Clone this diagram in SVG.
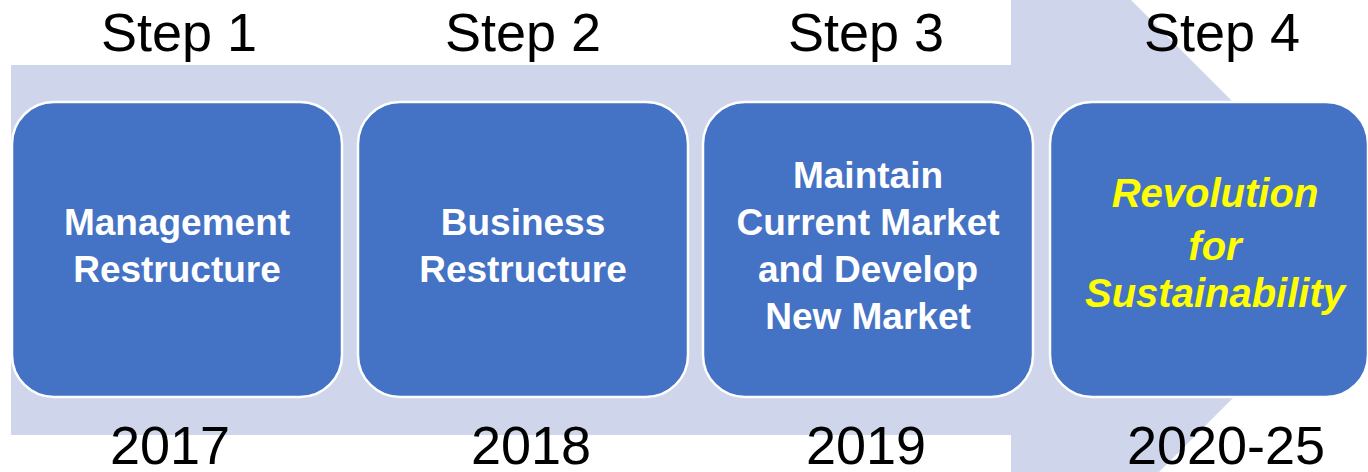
<svg xmlns="http://www.w3.org/2000/svg" width="1368" height="472" viewBox="0 0 1368 472">
<style>
.band{fill:#cfd5ea}
.box{fill:#4472c4;stroke:#ffffff;stroke-width:2.5}
.step{font-family:"Liberation Sans",Arial,sans-serif;font-size:54px;fill:#000;text-anchor:middle}
.lbl{font-family:"Liberation Sans",Arial,sans-serif;font-size:37px;font-weight:bold;fill:#fff;text-anchor:middle}
.lbl4{font-family:"Liberation Sans",Arial,sans-serif;font-size:40px;font-weight:bold;font-style:italic;fill:#ffff00;text-anchor:middle}
</style>
<rect width="1368" height="472" fill="#ffffff"/>
<g id="arrow">
<polygon class="band" points="11,65 1011,65 1011,-120 1381,250 1011,620 1011,435 11,435"/>
</g>
<g id="labels">
<text class="step" x="179" y="51">Step 1</text>
<text class="step" x="523" y="51">Step 2</text>
<text class="step" x="866" y="51">Step 3</text>
<text class="step" x="1222" y="51">Step 4</text>
<text class="step" x="170" y="464">2017</text>
<text class="step" x="531" y="464">2018</text>
<text class="step" x="866" y="464">2019</text>
<text class="step" x="1226" y="464">2020-25</text>
</g>
<g id="node1">
<rect class="box" x="12" y="102" width="330" height="295" rx="42"/>
<text class="lbl" x="177" y="235">Management</text>
<text class="lbl" x="177" y="282">Restructure</text>
</g>
<g id="node2">
<rect class="box" x="358" y="102" width="330" height="295" rx="42"/>
<text class="lbl" x="523" y="235">Business</text>
<text class="lbl" x="523" y="282">Restructure</text>
</g>
<g id="node3">
<rect class="box" x="703" y="102" width="330" height="295" rx="42"/>
<text class="lbl" x="868" y="188">Maintain</text>
<text class="lbl" x="868" y="235">Current Market</text>
<text class="lbl" x="868" y="282">and Develop</text>
<text class="lbl" x="868" y="329">New Market</text>
</g>
<g id="node4">
<rect class="box" x="1050" y="102" width="318" height="295" rx="42"/>
<text class="lbl4" x="1215" y="207">Revolution</text>
<text class="lbl4" x="1215" y="260">for</text>
<text class="lbl4" x="1215" y="307">Sustainability</text>
</g>
<g id="connectors"></g>
</svg>
